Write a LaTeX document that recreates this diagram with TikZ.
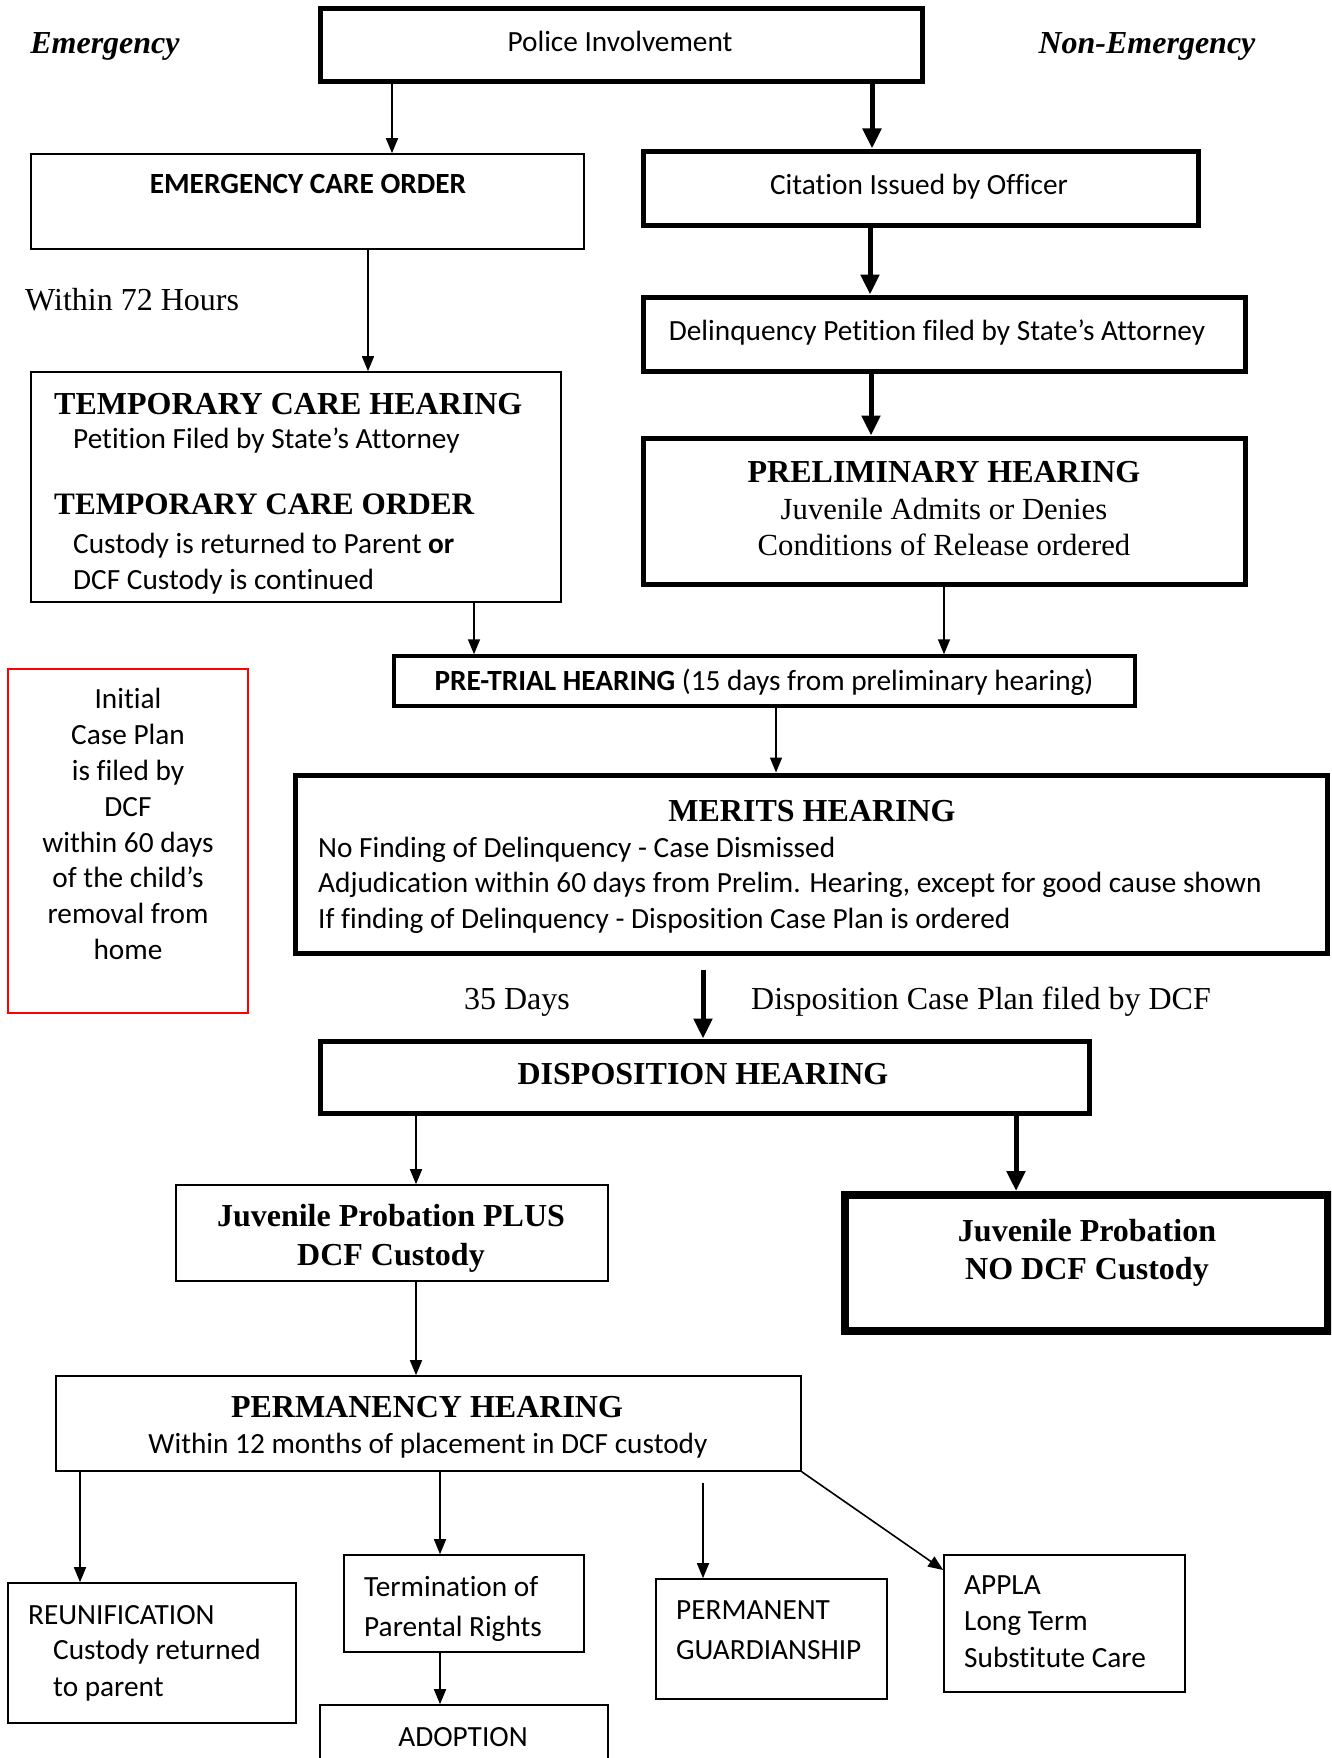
\documentclass[tikz,border=0pt]{standalone}
\usepackage{fontspec}
\setmainfont{Liberation Serif}
\setsansfont{Carlito}[Ligatures=NoCommon]
\usetikzlibrary{arrows.meta}
\begin{document}
\begin{tikzpicture}[x=1pt,y=-1pt,
  bx/.style 2 args={draw, inner sep=0pt, minimum width=#1pt, minimum height=#2pt},
  lnthin/.style={line width=1.6pt},
  lnthick/.style={line width=5pt},
  lnheavy/.style={line width=8pt},
  arrthin/.style={line width=1.6pt, -{Triangle[length=15pt,width=12pt]}},
  arrthick/.style={line width=5pt, -{Triangle[length=20pt,width=18pt]}},
  sansf/.style={inner sep=0pt, text height=24pt, text depth=4pt, font=\sffamily\fontsize{29.3}{36}\selectfont},
  sansb/.style={sansf, font=\sffamily\bfseries\fontsize{29.3}{36}\selectfont},
  serf/.style={inner sep=0pt, text height=26pt, text depth=4pt, font=\rmfamily\fontsize{32}{37}\selectfont},
  serfs/.style={serf, font=\rmfamily\fontsize{30.7}{37}\selectfont},
  serbf/.style={serf, font=\rmfamily\bfseries\fontsize{32}{37}\selectfont},
  serbi/.style={serf, font=\rmfamily\bfseries\itshape\fontsize{32}{37}\selectfont},
]
\path[use as bounding box] (0,0) rectangle (1331,1758);
\clip (0,0) rectangle (1331,1758);
\fill[white] (0,0) rectangle (1331,1758);

% boxes
\node[bx={602}{73}, lnthick] (police) at (621,45.5) {};
\node[bx={553}{95}, lnthin] (eco) at (307.5,201.5) {};
\node[bx={555}{74}, lnthick] (cit) at (920.5,188) {};
\node[bx={602}{74}, lnthick] (delinq) at (944,334) {};
\node[bx={530}{230}, lnthin] (tch) at (296,487) {};
\node[bx={602}{146}, lnthick] (prelim) at (944,511) {};
\node[bx={741}{50}, line width=3.5pt] (pretrial) at (764.5,681) {};
\node[bx={240}{344}, lnthin, draw=red] (red) at (128,841) {};
\node[bx={1032}{178}, lnthick] (merits) at (811,864) {};
\node[bx={769}{72}, lnthick] (disp) at (704.5,1077) {};
\node[bx={432}{96}, lnthin] (jpp) at (392,1233) {};
\node[bx={483}{136}, lnheavy] (jpno) at (1086.5,1263) {};
\node[bx={745}{95}, lnthin] (perm) at (428.5,1423.5) {};
\node[bx={288}{140}, lnthin] (reun) at (152,1653) {};
\node[bx={240}{97}, lnthin] (term) at (464,1603.5) {};
\node[bx={288}{80}, lnthin] (adopt) at (464,1745) {};
\node[bx={231}{120}, lnthin] (pg) at (771.5,1639) {};
\node[bx={241}{137}, lnthin] (appla) at (1064.5,1623.5) {};

% connectors
\draw[arrthin] (police.south -| 392,0) -- (eco.north -| 392,0);
\draw[arrthick] (police.south -| 872,0) -- (cit.north -| 872,0);
\draw[arrthin] (eco.south -| 368,0) -- (tch.north -| 368,0);
\draw[arrthick] (cit.south -| 870,0) -- (delinq.north -| 870,0);
\draw[arrthick] (delinq.south -| 871,0) -- (prelim.north -| 871,0);
\draw[arrthin] (tch.south -| 474,0) -- (pretrial.north -| 474,0);
\draw[arrthin] (prelim.south -| 944,0) -- (pretrial.north -| 944,0);
\draw[arrthin] (pretrial.south -| 776,0) -- (merits.north -| 776,0);
\coordinate (mstart) at (703,970);
\draw[arrthick] (mstart) -- (disp.north -| mstart);
\draw[arrthin] (disp.south -| 416,0) -- (jpp.north -| 416,0);
\draw[arrthick] (disp.south -| 1016,0) -- (jpno.north -| 1016,0);
\draw[arrthin] (jpp.south -| 416,0) -- (perm.north -| 416,0);
\draw[arrthin] (perm.south -| 80,0) -- (reun.north -| 80,0);
\draw[arrthin] (perm.south -| 440,0) -- (term.north -| 440,0);
\draw[arrthin] (term.south -| 440,0) -- (adopt.north -| 440,0);
\coordinate (pgstart) at (703,1483);
\draw[arrthin] (pgstart) -- (pg.north -| pgstart);
\draw[arrthin] (perm.south east) -- (appla.north west |- 0,1570);

% texts
\node[serbi] (temerg) at (105,43) {Emergency};
\node[serbi] (tnonemerg) at (1147,43) {Non-Emergency};
\node[sansf] (tpolice) at (620,41.5) {Police Involvement};
\node[sansb] (teco) at (308,183) {EMERGENCY CARE ORDER};
\node[sansf] (tcit) at (919,184) {Citation Issued by Officer};
\node[serf, anchor=west] (t72) at (25,299) {Within 72 Hours};
\node[sansf] (tdel) at (937,330) {Delinquency Petition filed by State’s Attorney};
\node[serbf, anchor=west] (ttch) at (54,403) {TEMPORARY CARE HEARING};
\node[sansf, anchor=west] (ttch2) at (73,438) {Petition Filed by State’s Attorney};
\node[serbf, anchor=west, font=\rmfamily\bfseries\fontsize{31.2}{37}\selectfont] (ttco) at (54,503) {TEMPORARY CARE ORDER};
\node[sansf, anchor=west] (ttco2) at (73,543) {Custody is returned to Parent \textbf{or}};
\node[sansf, anchor=west] (ttco3) at (73,579) {DCF Custody is continued};
\node[serbf] (tprelim) at (944,471) {PRELIMINARY HEARING};
\node[serfs] (tprelim2) at (944,508) {Juvenile Admits or Denies};
\node[serfs] (tprelim3) at (944,544) {Conditions of Release ordered};
\node[sansf] (tpretrial) at (764,680) {\textbf{PRE-TRIAL HEARING} (15 days from preliminary hearing)};
\node[align=center, inner sep=0pt, font=\sffamily\fontsize{29.3}{35.9}\selectfont] (tred) at (128,824) {Initial\\Case Plan\\is filed by\\DCF\\within 60 days\\of the child’s\\removal from\\home};
\node[serbf] (tmerits) at (812,810) {MERITS HEARING};
\node[sansf, anchor=west] (tm1) at (318,847) {No Finding of Delinquency - Case Dismissed};
\node[sansf, anchor=west] (tm2) at (318,882) {Adjudication within 60 days from Prelim. Hearing, except for good cause shown};
\node[sansf, anchor=west] (tm3) at (318,918) {If finding of Delinquency - Disposition Case Plan is ordered};
\node[serf] (t35) at (517,998) {35 Days};
\node[serf, anchor=west] (tdcp) at (751,998) {Disposition Case Plan filed by DCF};
\node[serbf] (tdisp) at (703,1073) {DISPOSITION HEARING};
\node[serbf] (tjpp) at (391,1215) {Juvenile Probation PLUS};
\node[serbf] (tjpp2) at (391,1254) {DCF Custody};
\node[serbf] (tjpno) at (1087,1230) {Juvenile Probation};
\node[serbf] (tjpno2) at (1087,1268) {NO DCF Custody};
\node[serbf] (tperm) at (427,1406) {PERMANENCY HEARING};
\node[sansf] (tperm2) at (428,1443) {Within 12 months of placement in DCF custody};
\node[sansf, anchor=west] (treun) at (28,1614) {REUNIFICATION};
\node[sansf, anchor=west] (treun2) at (53,1649) {Custody returned};
\node[sansf, anchor=west] (treun3) at (53,1686) {to parent};
\node[sansf, anchor=west] (tterm) at (364,1586) {Termination of};
\node[sansf, anchor=west] (tterm2) at (364,1626) {Parental Rights};
\node[sansf] (tadopt) at (463,1736) {ADOPTION};
\node[sansf, anchor=west] (tpg) at (676,1609) {PERMANENT};
\node[sansf, anchor=west] (tpg2) at (676,1649) {GUARDIANSHIP};
\node[sansf, anchor=west] (tap) at (964,1584) {APPLA};
\node[sansf, anchor=west] (tap2) at (964,1620) {Long Term};
\node[sansf, anchor=west] (tap3) at (964,1657) {Substitute Care};
\end{tikzpicture}
\end{document}
